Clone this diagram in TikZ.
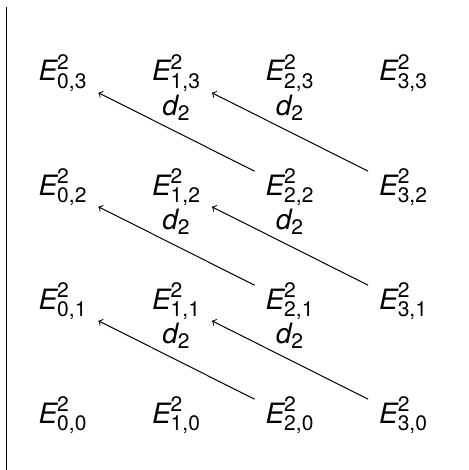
\documentclass[tikz,border=0pt]{standalone}
\usepackage{amsmath}
\usepackage{fontspec}
\setmainfont{TeX Gyre Heros}
\DeclareMathSizes{14}{14}{10.5}{8}
\begin{document}
\begin{tikzpicture}[x=0.5pt,y=-0.5pt,
  every node/.style={font=\fontsize{14}{16}\selectfont},
  term/.style={inner sep=0pt, minimum width=35pt, text height=12pt, text depth=6pt},
  diff/.style={->, line width=0.5pt},
  dlab/.style={midway, anchor=base, yshift=8pt, inner sep=0pt}]
\useasboundingbox (0,0) rectangle (469,470);
% axis line
\coordinate (axtop) at (6.5,7);
\coordinate (axbot) at (6.5,470);
\draw[line width=0.65pt] (axtop) -- (axbot);
% terms
\foreach \p/\x in {0/63,1/176.5,2/290,3/403.5}{
  \foreach \q/\y in {0/417,1/303,2/189,3/75}{
    \node[term] (e\p\q) at (\x,\y) {$\textit{E}^{\text{2}}_{\text{\p,\q}}$};
  }
}
% differentials
\foreach \q [evaluate=\q as \r using int(\q+1)] in {0,1,2}{
  \draw[diff] (e2\q) -- (e0\r) node[dlab] {$\textit{d}_{\text{2}}$};
  \draw[diff] (e3\q) -- (e1\r) node[dlab] {$\textit{d}_{\text{2}}$};
}
\end{tikzpicture}
\end{document}
